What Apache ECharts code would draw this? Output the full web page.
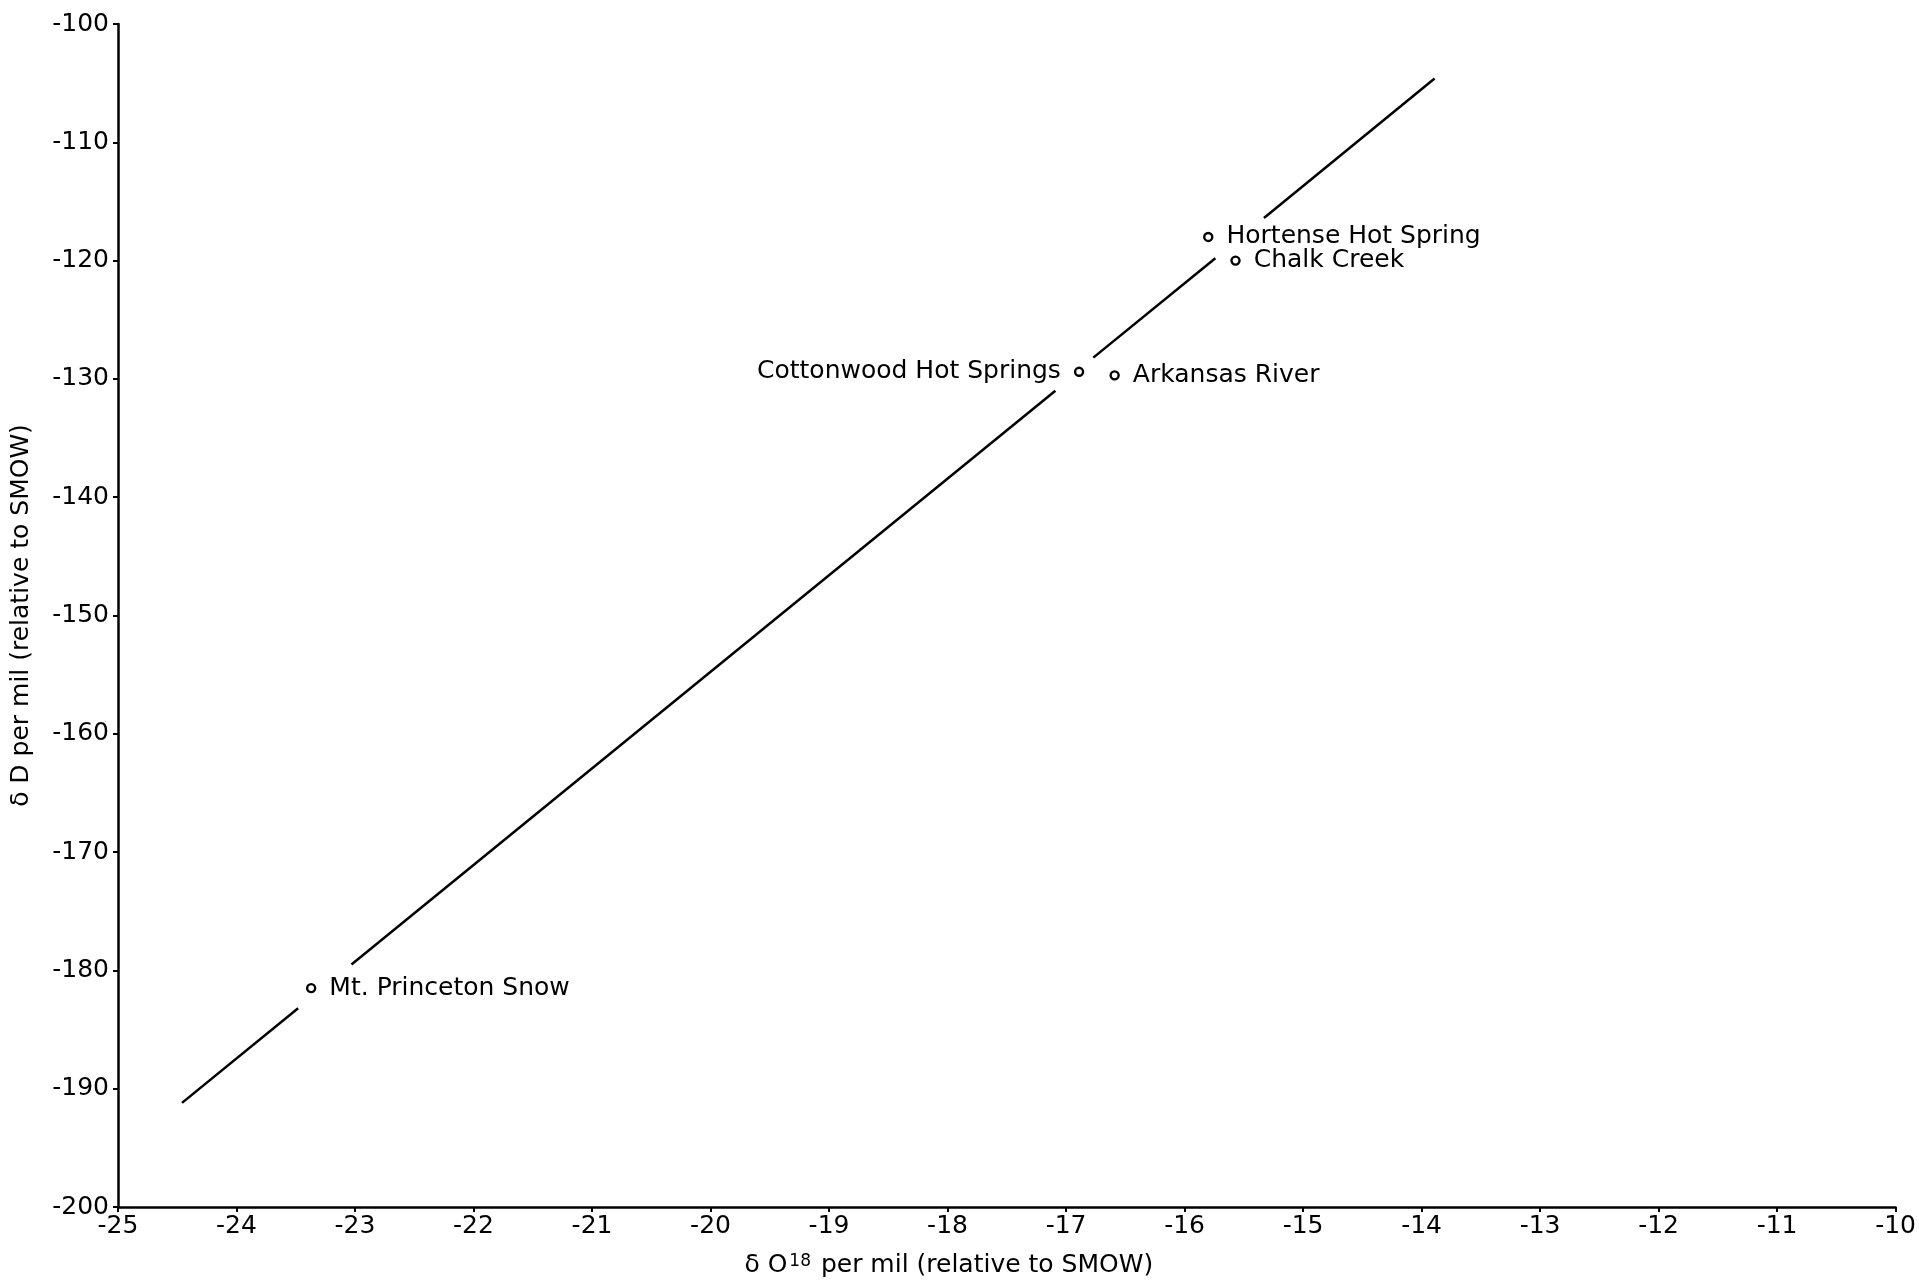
<!DOCTYPE html>
<html>
<head>
<meta charset="utf-8">
<script src="https://cdn.jsdelivr.net/npm/echarts@6/dist/echarts.min.js"></script>
<style>html,body{margin:0;padding:0;background:#fff;}#c{width:1919px;height:1286px;}</style>
</head>
<body>
<div id="c"></div>
<script>
// Sample names and values (δO18, δD)
const sampleNames = ["Hortense Hot Spring", "Chalk Creek", "Cottonwood Hot Springs", "Arkansas River", "Mt. Princeton Snow"];
const d18O = [-15.8, -15.57, -16.89, -16.59, -23.37];
const dD = [-118.0, -120.0, -129.4, -129.7, -181.5];
const labelSide = ["right", "right", "left", "right", "right"];

// Drawn line (broken near labels): segment endpoints [δO18, δD]
const lineSegments = [
  [[-24.46, -191.2], [-23.48, -183.2]],
  [[-23.03, -179.5], [-17.09, -131.0]],
  [[-16.77, -128.2], [-15.74, -119.8]],
  [[-15.33, -116.4], [-13.89, -104.6]]
];

const xTicks = { min: -25, max: -10, interval: 1 };
const yTicks = { min: -200, max: -100, interval: 10 };

const font = "DejaVu Sans";
const ink = "#000";

const series = [];
lineSegments.forEach(seg => {
  series.push({
    type: 'line', data: seg, symbol: 'none', silent: true,
    lineStyle: { color: ink, width: 2.5 }
  });
});
series.push({
  type: 'scatter',
  data: sampleNames.map((n, i) => ({
    name: n, value: [d18O[i], dD[i]],
    label: { position: labelSide[i] }
  })),
  symbol: 'circle', symbolSize: 8,
  itemStyle: { color: '#fff', borderColor: ink, borderWidth: 2.4, opacity: 1 },
  label: {
    show: true, formatter: '{b}', distance: 13,
    fontFamily: font, fontSize: 25, color: ink, opacity: 1
  },
  emphasis: { disabled: true }
});

const chart = echarts.init(document.getElementById('c'), null, { renderer: 'canvas' });
chart.setOption({
  backgroundColor: '#fff',
  animation: false,
  grid: { left: 118, right: 21, top: 24, bottom: 79, containLabel: false },
  xAxis: {
    type: 'value', min: xTicks.min, max: xTicks.max, interval: xTicks.interval,
    name: '{t|δ O}{s|18}{t| per mil (relative to SMOW)}', nameLocation: 'middle', nameGap: 46,
    nameTextStyle: {
      fontFamily: font, fontSize: 25, color: ink, padding: [0, 116, 0, 0],
      rich: {
        t: { fontFamily: font, fontSize: 25, color: ink },
        s: { fontFamily: font, fontSize: 17, color: ink, verticalAlign: 'top', padding: [0, 2, 8, 2] }
      }
    },
    axisLine: { show: true, onZero: false, lineStyle: { color: ink, width: 2.5 } },
    axisTick: { show: true, length: 5, lineStyle: { color: ink, width: 2 } },
    axisLabel: { fontFamily: font, fontSize: 25, color: ink, margin: 7, showMaxLabel: true, showMinLabel: true },
    splitLine: { show: false }
  },
  yAxis: {
    type: 'value', min: yTicks.min, max: yTicks.max, interval: yTicks.interval,
    name: 'δ D per mil (relative to SMOW)', nameLocation: 'middle', nameGap: 84,
    nameTextStyle: { fontFamily: font, fontSize: 25, color: ink },
    axisLine: { show: true, onZero: false, lineStyle: { color: ink, width: 2.5 } },
    axisTick: { show: true, length: 5, lineStyle: { color: ink, width: 2 } },
    axisLabel: { fontFamily: font, fontSize: 25, color: ink, margin: 9, showMaxLabel: true, showMinLabel: true },
    splitLine: { show: false }
  },
  series: series
});
</script>
</body>
</html>
